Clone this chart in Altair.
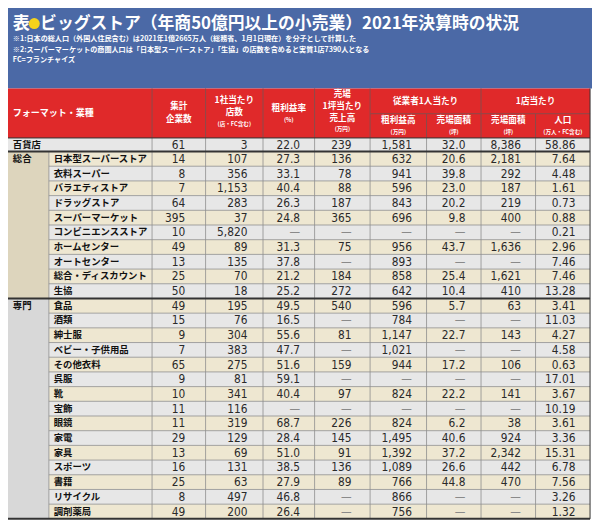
import altair as alt
import pandas as pd

# ---------------- data ----------------
title_mark = "表"
title_text = "ビッグストア（年商50億円以上の小売業）2021年決算時の状況"
notes = [
    "※1:日本の総人口（外国人住民含む）は2021年1億2665万人（総務省、1月1日現在）を分子として計算した",
    "※2:スーパーマーケットの商圏人口は「日本型スーパーストア」「生協」の店数を含めると実質1店7390人となる",
    "FC=フランチャイズ",
]
group_labels = ["総合", "専門"]
names = [
    "百貨店",
    "日本型スーパーストア", "衣料スーパー", "バラエティストア", "ドラッグストア", "スーパーマーケット",
    "コンビニエンスストア", "ホームセンター", "オートセンター", "総合・ディスカウント", "生協",
    "食品", "酒類", "紳士服", "ベビー・子供用品", "その他衣料", "呉服", "靴", "宝飾", "眼鏡",
    "家電", "家具", "スポーツ", "書籍", "リサイクル", "調剤薬局",
]
companies = [61, 14, 8, 7, 64, 395, 10, 49, 13, 25, 50,
             49, 15, 9, 7, 65, 9, 10, 11, 11, 29, 13, 16, 25, 8, 49]
stores = [3, 107, 356, 1153, 283, 37, 5820, 89, 135, 70, 18,
          195, 76, 304, 383, 275, 81, 341, 116, 319, 129, 69, 131, 63, 497, 200]
gross_margin = [22.0, 27.3, 33.1, 40.4, 26.3, 24.8, None, 31.3, 37.8, 21.2, 25.2,
                49.5, 16.5, 55.6, 47.7, 51.6, 59.1, 40.4, None, 68.7, 28.4, 51.0, 38.5, 27.9, 46.8, 26.4]
sales_per_tsubo = [239, 136, 78, 88, 187, 365, None, 75, None, 184, 272,
                   540, None, 81, None, 159, None, 97, None, 226, 145, 91, 136, 89, None, None]
gp_per_emp = [1581, 632, 941, 596, 843, 696, None, 956, 893, 858, 642,
              596, 784, 1147, 1021, 944, None, 824, None, 824, 1495, 1392, 1089, 766, 866, 756]
area_per_emp = [32.0, 20.6, 39.8, 23.0, 20.2, 9.8, None, 43.7, None, 25.4, 10.4,
                5.7, None, 22.7, None, 17.2, None, 22.2, None, 6.2, 40.6, 37.2, 26.6, 44.8, None, None]
area_per_store = [8386, 2181, 292, 187, 219, 400, None, 1636, None, 1621, 410,
                  63, None, 143, None, 106, None, 141, None, 38, 924, 2342, 442, 470, None, None]
population = [58.86, 7.64, 4.48, 1.61, 0.73, 0.88, 0.21, 2.96, 7.46, 7.46, 13.28,
              3.41, 11.03, 4.27, 4.58, 0.63, 17.01, 3.67, 10.19, 3.61, 3.36, 15.31, 6.78, 7.56, 3.26, 1.32]

columns = [companies, stores, gross_margin, sales_per_tsubo, gp_per_emp,
           area_per_emp, area_per_store, population]
decimals = [0, 0, 1, 0, 0, 1, 0, 2]

# ---------------- layout / style ----------------
W, H = 584, 514           # chart size in px
LW, LH = 600, 530         # layout units
BLUE = "#4b69a6"
RED = "#e0292a"
GRAY_ROW = "#e7e7e7"
BEIGE_ROW = "#eee7d1"
CAT_SOGO = "#ddd5bd"
CAT_SENMON = "#d8d8d8"
LINE = "#8e8e8e"
DARK = "#333333"
CJK = "Noto Sans CJK JP"
NUM = "Liberation Sans Narrow, Arial Narrow, DejaVu Sans Condensed, sans-serif"

edges = [148, 203, 262, 315, 372, 430, 486, 542, 598]
num_anchor = [182, 246, 300, 353, 415, 470, 527, 583]
HEAD_TOP, HEAD_MID, HEAD_BOT = 83, 109, 134
ROW0_BOT = 148
RH = 15.15
n = len(names)


def row_top(i):
    return HEAD_BOT if i == 0 else ROW0_BOT + (i - 1) * RH


def row_bot(i):
    return ROW0_BOT if i == 0 else ROW0_BOT + i * RH


def row_mid(i):
    return (row_top(i) + row_bot(i)) / 2


TABLE_BOT = row_bot(n - 1)
SPLIT = row_top(11)

xs = alt.Scale(domain=[0, LW], range=[0, W], nice=False, zero=False)
ys = alt.Scale(domain=[0, LH], range=[0, H], nice=False, zero=False)


def X(f="x"):
    return alt.X(f + ":Q", scale=xs, axis=None)


def Y(f="y"):
    return alt.Y(f + ":Q", scale=ys, axis=None)


# rectangles
rects = [
    dict(x=0, x2=600, y=0, y2=HEAD_TOP, c=BLUE),
    dict(x=0, x2=598, y=HEAD_TOP, y2=HEAD_BOT, c=RED),
]
for i in range(n):
    rects.append(dict(x=0 if i == 0 else 42, x2=598, y=row_top(i), y2=row_bot(i),
                      c=GRAY_ROW if i % 2 == 0 else BEIGE_ROW))
rects.append(dict(x=0, x2=42, y=row_top(1), y2=row_bot(10), c=CAT_SOGO))
rects.append(dict(x=0, x2=42, y=row_top(11), y2=row_bot(n - 1), c=CAT_SENMON))
rect_df = pd.DataFrame(rects)

# rules
rules = []
HL = "#8c4a4a"
for e in [148, 203, 262, 315, 372, 486]:
    rules.append(dict(x=e, x2=e, y=HEAD_TOP, y2=HEAD_BOT, c=HL, w=1))
for e in [430, 542]:
    rules.append(dict(x=e, x2=e, y=HEAD_MID, y2=HEAD_BOT, c=HL, w=1))
rules.append(dict(x=372, x2=598, y=HEAD_MID, y2=HEAD_MID, c=HL, w=1))
for i in range(1, n - 1):
    if i == 10:
        continue
    rules.append(dict(x=42, x2=598, y=row_bot(i), y2=row_bot(i), c=LINE, w=0.8))
rules.append(dict(x=42, x2=42, y=ROW0_BOT, y2=TABLE_BOT, c=LINE, w=0.8))
for e in edges[:-1]:
    rules.append(dict(x=e, x2=e, y=HEAD_BOT, y2=TABLE_BOT, c=LINE, w=0.8))
rules.append(dict(x=598, x2=598, y=HEAD_TOP, y2=TABLE_BOT, c=DARK, w=1))
rules.append(dict(x=0, x2=598, y=HEAD_BOT, y2=HEAD_BOT, c=DARK, w=1))
rules.append(dict(x=0, x2=598, y=ROW0_BOT, y2=ROW0_BOT, c=DARK, w=2))
rules.append(dict(x=0, x2=598, y=SPLIT, y2=SPLIT, c=DARK, w=2))
rules.append(dict(x=0, x2=598, y=TABLE_BOT, y2=TABLE_BOT, c=DARK, w=2))
rule_df = pd.DataFrame(rules)

# texts
white_bold = [dict(x=5, y=17, t=title_mark, s=17)]
white_bold.append(dict(x=33, y=17, t=title_text, s=16.8))
for k, line in enumerate(notes):
    white_bold.append(dict(x=5, y=32 + k * 11, t=line, s=7.1))
white_bold.append(dict(x=5, y=108, t="フォーマット・業種", s=9))
white_bold_df = pd.DataFrame(white_bold)

hdr = []
hs, ss = 8.6, 5.6
def add_h(x, y, t, s):
    hdr.append(dict(x=x, y=y, t=t, s=s))

add_h(175.5, 101, "集計", hs); add_h(175.5, 114, "企業数", hs)
add_h(232.5, 95, "1社当たり", hs); add_h(232.5, 107.5, "店数", hs); add_h(232.5, 120, "(店・FC含む)", ss)
add_h(288.5, 103, "粗利益率", hs); add_h(288.5, 115, "(%)", ss)
add_h(343.5, 89, "売場", hs); add_h(343.5, 101, "1坪当たり", hs); add_h(343.5, 113, "売上高", hs); add_h(343.5, 125, "(万円)", ss)
add_h(429, 96, "従業者1人当たり", hs); add_h(542, 96, "1店当たり", hs)
add_h(401, 116, "粗利益高", hs); add_h(401, 127.5, "(万円)", ss)
add_h(458, 116, "売場面積", hs); add_h(458, 127.5, "(坪)", ss)
add_h(514, 116, "売場面積", hs); add_h(514, 127.5, "(坪)", ss)
add_h(570, 116, "人口", hs); add_h(570, 127.5, "(万人・FC含む)", ss)
hdr_df = pd.DataFrame(hdr)

name_rows = []
for i, nm in enumerate(names):
    name_rows.append(dict(x=5 if i == 0 else 47, y=row_mid(i), t=nm, s=9.4))
name_rows.append(dict(x=5, y=row_mid(1), t=group_labels[0], s=9.4))
name_rows.append(dict(x=5, y=row_mid(11), t=group_labels[1], s=9.4))
name_df = pd.DataFrame(name_rows)

num_rows = []
for j, col in enumerate(columns):
    for i, v in enumerate(col):
        if v is None:
            txt, c = "—", "#8a8a8a"
        else:
            txt, c = f"{v:,.{decimals[j]}f}", "#2a2a2a"
        num_rows.append(dict(x=num_anchor[j], y=row_mid(i), t=txt, c=c))
num_df = pd.DataFrame(num_rows)

circle_df = pd.DataFrame([dict(x=27, y=16)])

base_rect = alt.Chart(rect_df).mark_rect(strokeWidth=0).encode(
    x=X(), x2="x2:Q", y=Y(), y2="y2:Q", color=alt.Color("c:N", scale=None))
base_rule = alt.Chart(rule_df).mark_rule().encode(
    x=X(), x2="x2:Q", y=Y(), y2="y2:Q", color=alt.Color("c:N", scale=None),
    strokeWidth=alt.StrokeWidth("w:Q", scale=None))
circle = alt.Chart(circle_df).mark_circle(color="#f5d31c", opacity=1, size=120).encode(x=X(), y=Y())

t_white = alt.Chart(white_bold_df).mark_text(
    align="left", baseline="middle", font=CJK, fontWeight="bold", color="white").encode(
    x=X(), y=Y(), text="t:N", size=alt.Size("s:Q", scale=None))
t_hdr = alt.Chart(hdr_df).mark_text(
    align="center", baseline="middle", font=CJK, fontWeight="bold", color="white").encode(
    x=X(), y=Y(), text="t:N", size=alt.Size("s:Q", scale=None))
t_name = alt.Chart(name_df).mark_text(
    align="left", baseline="middle", font=CJK, fontWeight="bold", color="#111111").encode(
    x=X(), y=Y(), text="t:N", size=alt.Size("s:Q", scale=None))
t_num = alt.Chart(num_df).mark_text(
    align="right", baseline="middle", font=NUM, fontSize=11.8).encode(
    x=X(), y=Y(), text="t:N", color=alt.Color("c:N", scale=None))

chart = alt.layer(base_rect, base_rule, circle, t_white, t_hdr, t_name, t_num).properties(
    width=W, height=H, padding=0, autosize=alt.AutoSizeParams(type="none")
).configure_view(stroke=None)

chart.save("out.html", embed_options={"renderer": "svg", "actions": False})
